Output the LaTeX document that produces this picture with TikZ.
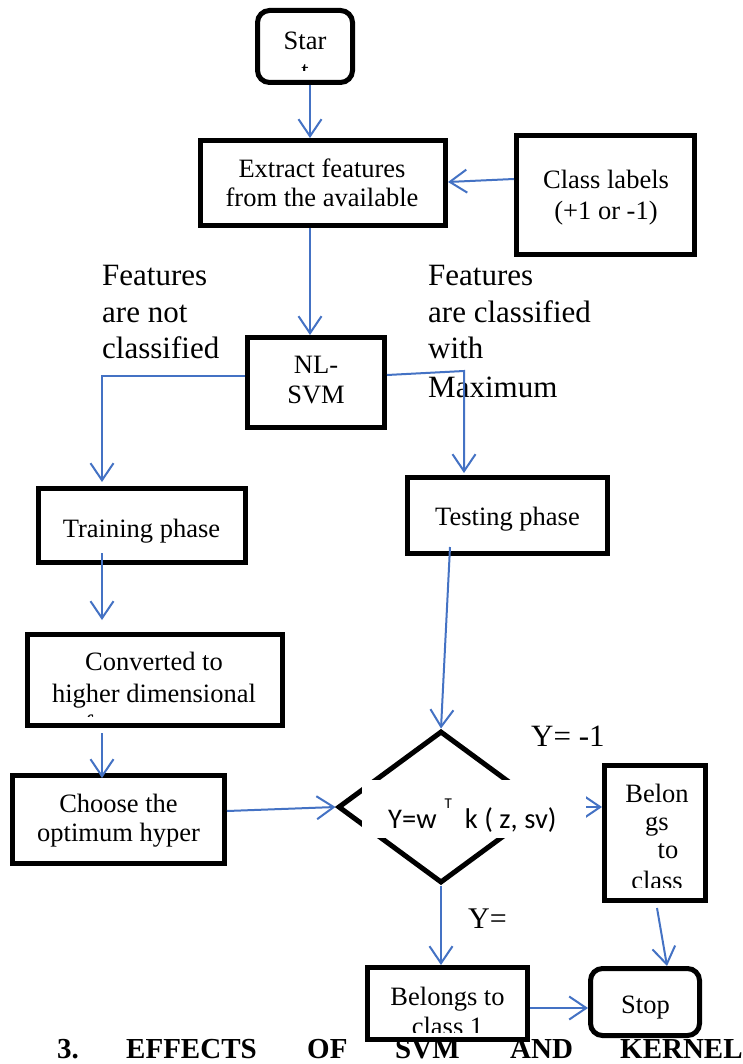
\documentclass[tikz,border=0pt]{standalone}
\usepackage{fontspec}
\setmainfont{Liberation Serif}
\newfontfamily\calib{Carlito}
\usetikzlibrary{arrows.meta,shapes.geometric,calc}
\definecolor{linkblue}{HTML}{4472C4}

\begin{document}
\begin{tikzpicture}[x=1pt,y=-1pt,
  box/.style={draw,line width=5pt,inner sep=0pt,fill=white},
  rbox/.style={box,rounded corners=12pt},
  txt/.style={anchor=base,inner sep=0pt,font=\fontsize{26.5}{30}\selectfont},
  big/.style={anchor=base west,inner sep=0pt,font=\fontsize{31}{37}\selectfont},
  head/.style={anchor=base west,inner sep=0pt,font=\fontsize{29}{34}\selectfont\bfseries},
  arr/.style={draw=linkblue,line width=2pt,-{Straight Barb[length=17pt,width=23pt]}},
]
\fill[white] (0,0) rectangle (743,1064);
\useasboundingbox (0,0) rectangle (743,1064);

% section heading running under the bottom row
\node[head] (h1) at (57,1058.5) {3.};
\node[head] (h2) at (126,1058.5) {EFFECTS};
\node[head] (h3) at (307,1058.5) {OF};
\node[head] (h4) at (395,1058.5) {SVM};
\node[head] (h5) at (510,1058.5) {AND};
\node[head] (h6) at (620,1058.5) {KERNEL};

% boxes
\node[rbox,minimum width=95pt,minimum height=72pt] (start) at (305,46.5) {};
\node[box,minimum width=245pt,minimum height=85pt] (extract) at (323,183) {};
\node[box,minimum width=178pt,minimum height=119pt] (class) at (605.5,195) {};
\node[box,minimum width=137pt,minimum height=90pt] (nlsvm) at (316,382.5) {};
\node[box,minimum width=207pt,minimum height=74pt] (train) at (142,525.5) {};
\node[box,minimum width=200pt,minimum height=76pt] (test) at (507.5,515.5) {};
\node[box,minimum width=255pt,minimum height=91pt] (conv) at (155,680) {};
\node[box,minimum width=212pt,minimum height=88pt] (choose) at (118.5,819.5) {};
\node[draw,line width=5pt,diamond,inner sep=0pt,minimum width=206pt,minimum height=152pt] (dia) at (441,807) {};
\node[box,minimum width=101pt,minimum height=135pt] (belong) at (655,833) {};
\node[box,minimum width=160pt,minimum height=72pt] (belong1) at (447.5,1003.5) {};
\node[rbox,minimum width=109pt,minimum height=67pt] (stop) at (645,1002) {};

% box texts
\node[txt] (start-t1) at (305,50) {Star};
\begin{scope}
  \clip (258,12) rectangle (352,71);
  \node[txt] (start-t2) at (305,80) {t};
\end{scope}
\node[txt] (extract-t1) at (322,178) {Extract features};
\node[txt] (extract-t2) at (322,207) {from the available};
\node[txt] (class-t1) at (606,189) {Class labels};
\node[txt] (class-t2) at (606,220) {(+1 or -1)};
\node[txt] (nlsvm-t1) at (316,373) {NL-};
\node[txt] (nlsvm-t2) at (316,403) {SVM};
\node[txt] (train-t) at (141.5,537) {Training phase};
\node[txt] (test-t) at (507.5,525) {Testing phase};
\node[txt] (conv-t1) at (154,670) {Converted to};
\node[txt] (conv-t2) at (154,702) {higher dimensional};
\begin{scope}
  \clip (28,636) rectangle (282,716);
  \node[txt] (conv-t3) at (154,733) {feature space};
\end{scope}
\node[txt] (choose-t1) at (118.5,812) {Choose the};
\node[txt] (choose-t2) at (118.5,841) {optimum hyper};
\begin{scope}
  \clip (605,766) rectangle (705,887);
  \node[txt] (belong-t1) at (657,802) {Belon};
  \node[txt] (belong-t2) at (657,830) {gs};
  \node[txt] (belong-t3) at (668,858) {to};
  \node[txt] (belong-t4) at (657,889) {class};
\end{scope}
\node[txt] (belong1-t1) at (447.5,1005) {Belongs to};
\begin{scope}
  \clip (368,968) rectangle (527,1032);
  \node[txt] (belong1-t2) at (447.5,1035) {class 1};
\end{scope}
\node[txt] (stop-t) at (645.5,1013) {Stop};

% branch labels
\node[big] (lf1) at (102,285) {Features};
\node[big] (lf2) at (102,322) {are not};
\node[big] (lf3) at (102,358) {classified};
\node[big] (rf1) at (428,285) {Features};
\node[big] (rf2) at (428,322) {are classified};
\node[big] (rf3) at (428,358) {with};
\node[big] (rf4) at (428,397) {Maximum};
\node[big] (yneg) at (531,746) {Y= -1};
\node[big,font=\fontsize{30}{36}\selectfont] (ypos) at (468,928) {Y=};

% connectors
\draw[arr] ([xshift=5pt]start.south) -- ([xshift=5pt]start.south |- extract.north);
\draw[arr] ([yshift=16pt]class.west) -- ([yshift=1pt]extract.east);
\draw[arr] ([xshift=-13pt]extract.south) -- ([xshift=-13pt]extract.south |- nlsvm.north);
\draw[arr] ([yshift=6.5pt]nlsvm.west) -| ([xshift=-40pt,yshift=4pt]train.north);
\draw[arr] ([yshift=7.5pt]nlsvm.east) -- ($(test.north)+(-43.5,-104)$) -- ([xshift=-43.5pt,yshift=2pt]test.north);
\draw[arr] ([xshift=-40pt,yshift=12pt]train.south) -- ([xshift=-40pt,yshift=12pt]train.south |- conv.north);
\draw[arr] ([xshift=-53pt,yshift=-5pt]conv.south) -- ([xshift=-53pt,yshift=-5pt]conv.south |- choose.north);
\draw[arr] ([yshift=8.5pt]choose.east) -- (dia.west);
\draw[arr] ([xshift=-57.5pt,yshift=9pt]test.south) -- (dia.north);
\draw[arr] (dia.east) -- ([yshift=26pt]belong.west);
\draw[arr] (dia.south) -- (dia.south |- belong1.north);
\draw[arr] ([xshift=2pt,yshift=-5pt]belong.south) -- ([xshift=22pt]stop.north);
\draw[arr] ([yshift=-4.5pt]belong1.east) -- ([yshift=-4.5pt]belong1.east -| stop.west);

% text area of the decision shape, laid over its side corners
\fill[white] (362,780) rectangle (586,838);
\node[anchor=base west,inner sep=0pt,font=\calib\fontsize{28.5}{32}\selectfont] (dia-t) at (388,828)
  {Y=w\hspace{8pt}\raisebox{20pt}{\fontsize{15}{15}\selectfont T}\hspace{13pt}k ( z, sv)};
\end{tikzpicture}
\end{document}
